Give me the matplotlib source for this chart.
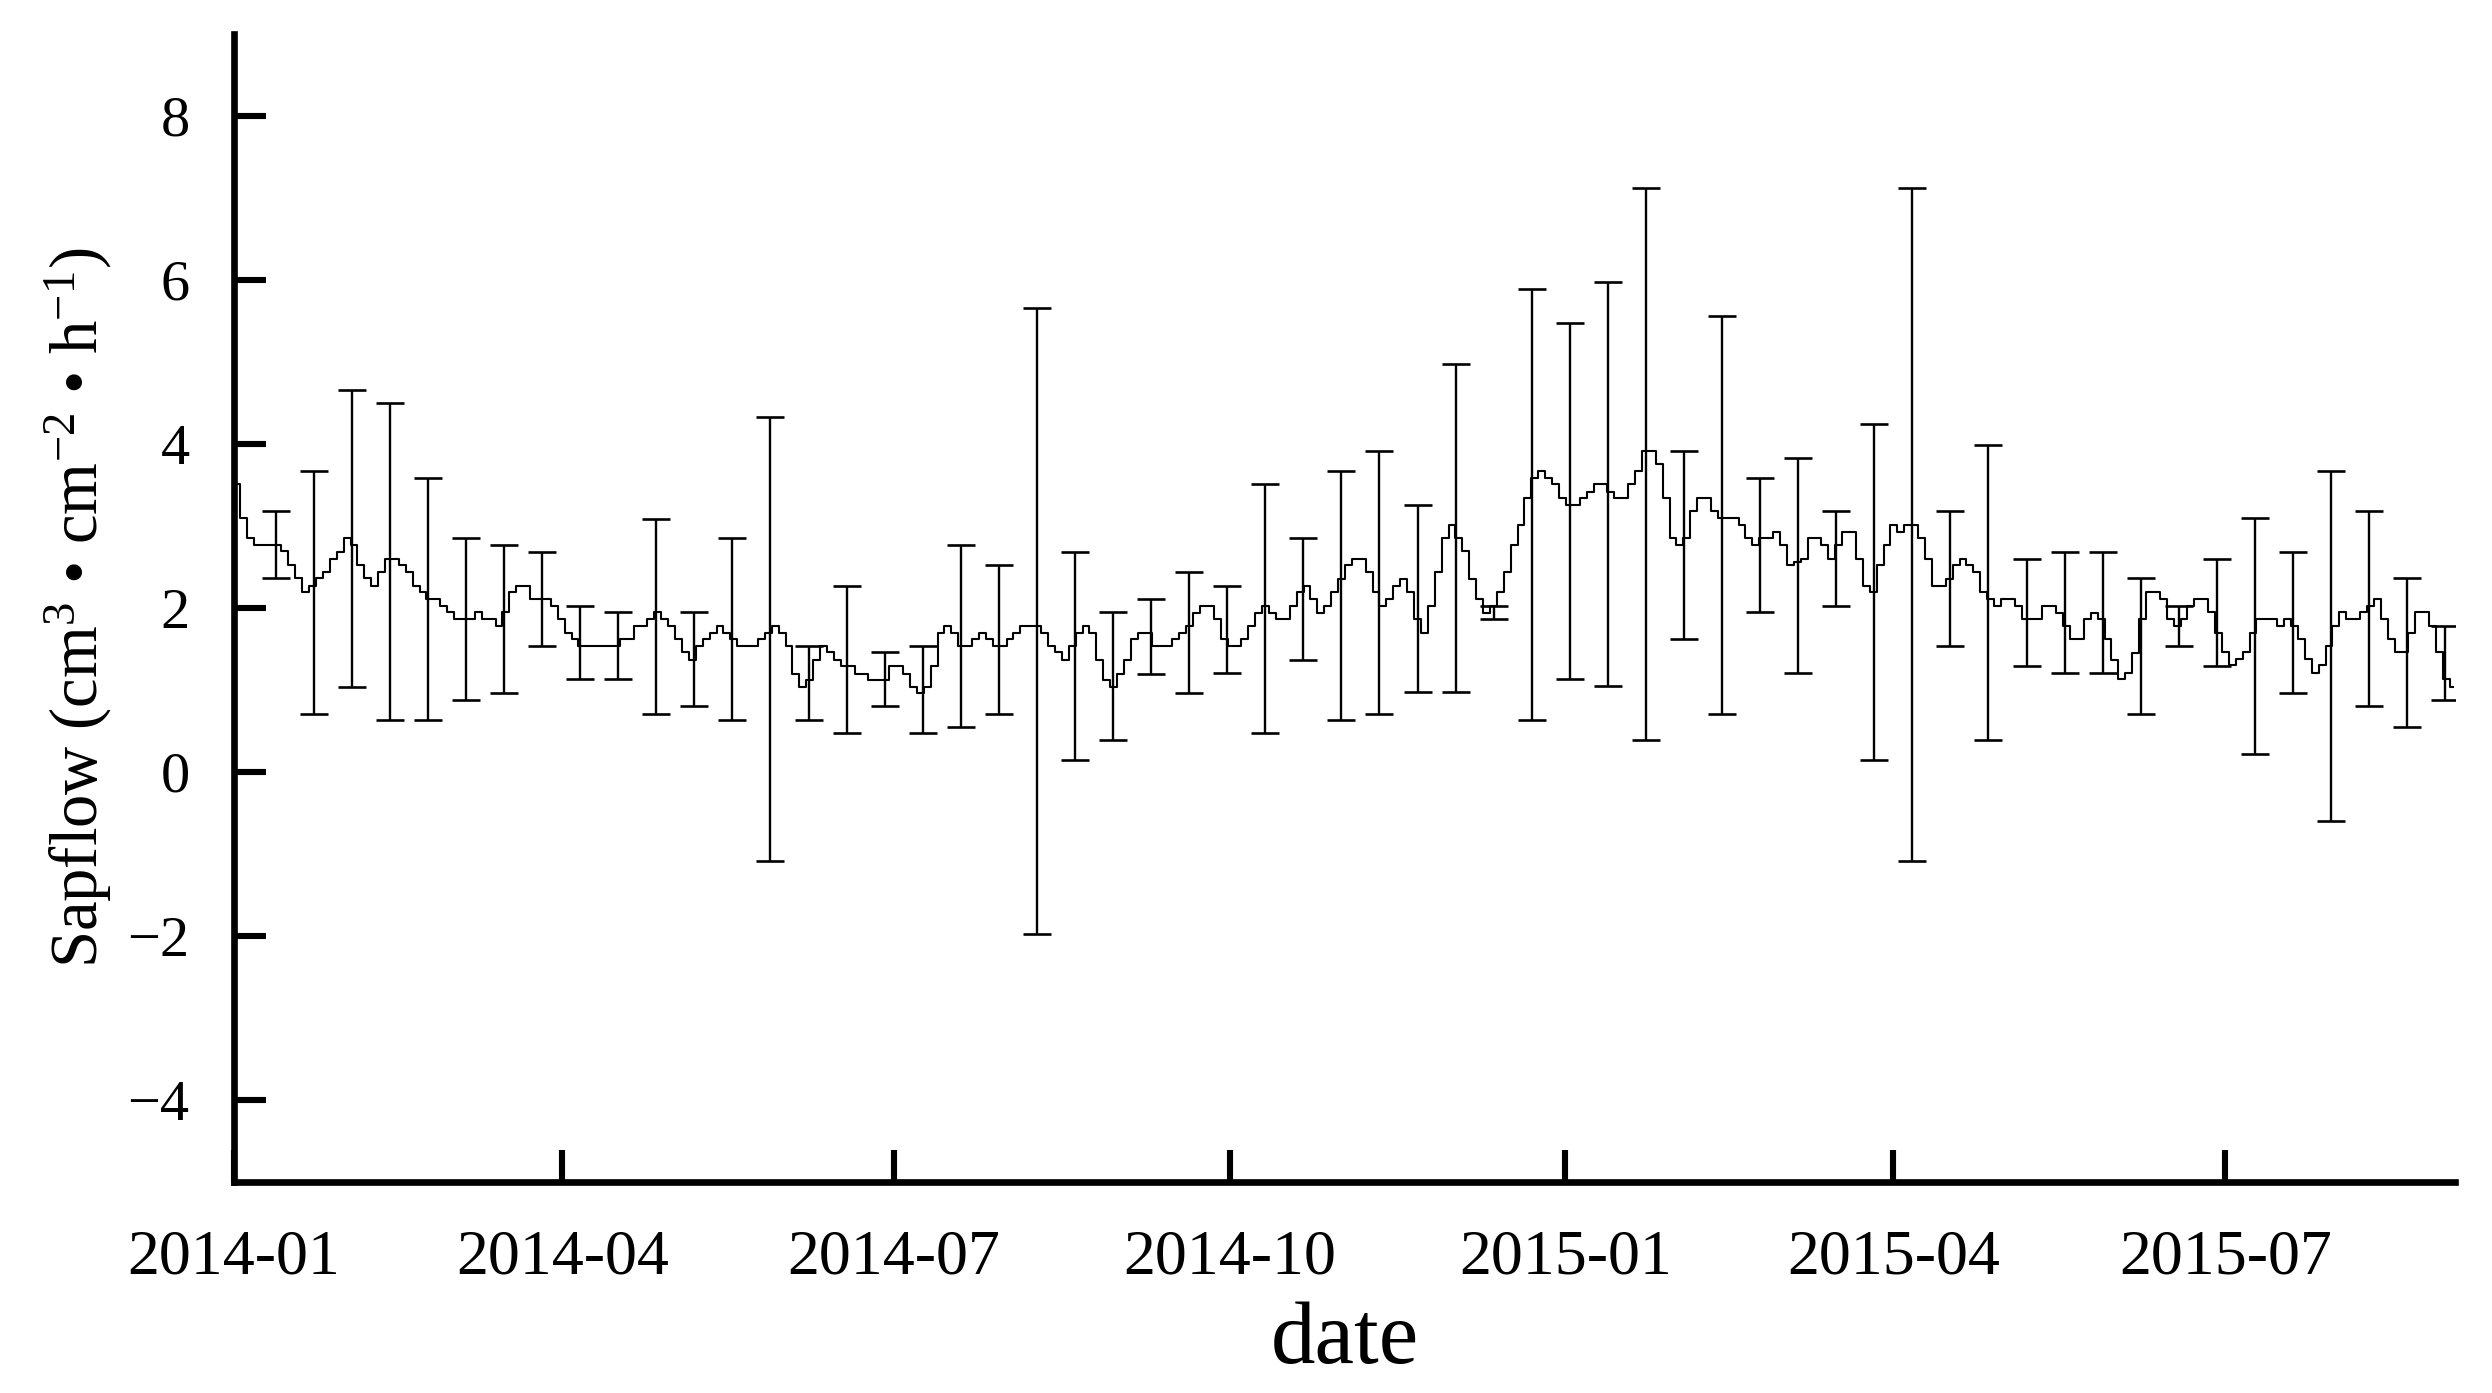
import matplotlib
matplotlib.use("Agg")
import matplotlib.pyplot as plt
import matplotlib.dates as mdates
import numpy as np
import pandas as pd

plt.rcParams['font.family'] = ['Liberation Serif', 'DejaVu Serif']
plt.rcParams['mathtext.fontset'] = 'custom'
plt.rcParams['mathtext.rm'] = 'Liberation Serif'
plt.rcParams['mathtext.it'] = 'Liberation Serif:italic'

# sap flow (smoothed), in time order
flow_jan_apr = [3.51, 3.10, 2.85, 2.77, 2.77, 2.77, 2.77, 2.69, 2.52, 2.36, 2.19, 2.27, 2.36, 2.44,
                2.60, 2.68, 2.85, 2.77, 2.52, 2.36, 2.27, 2.44, 2.60, 2.60, 2.52, 2.44, 2.27, 2.19,
                2.11, 2.11, 2.03, 1.95, 1.87, 1.87, 1.87, 1.95, 1.87, 1.87, 1.78, 1.95, 2.19, 2.27,
                2.27, 2.11, 2.11, 2.11, 2.03, 1.87, 1.70, 1.62, 1.54, 1.54, 1.54, 1.54, 1.54, 1.54,
                1.62, 1.62, 1.78, 1.78, 1.87, 1.95, 1.87, 1.78, 1.62, 1.46, 1.37]
flow_may_sep = [1.54, 1.62, 1.70, 1.78, 1.70, 1.62, 1.54, 1.54, 1.54, 1.62, 1.70, 1.78, 1.70, 1.54,
                1.20, 1.04, 1.12, 1.37, 1.54, 1.46, 1.37, 1.29, 1.29, 1.20, 1.20, 1.12, 1.12, 1.12,
                1.29, 1.29, 1.20, 1.04, 0.96, 1.04, 1.29, 1.70, 1.78, 1.70, 1.54, 1.54, 1.62, 1.70,
                1.62, 1.54, 1.54, 1.62, 1.70, 1.78, 1.78, 1.78, 1.70, 1.54, 1.46, 1.37, 1.54, 1.70,
                1.78, 1.70, 1.37, 1.12, 1.04, 1.20, 1.37, 1.62, 1.70, 1.70, 1.54, 1.54, 1.54, 1.62,
                1.70, 1.78]
flow_sep_feb = [1.94, 2.03, 2.03, 1.86, 1.62, 1.54, 1.54, 1.62, 1.78, 1.94, 2.03, 1.94, 1.86, 1.86,
                2.03, 2.19, 2.27, 2.11, 1.94, 2.03, 2.19, 2.35, 2.52, 2.60, 2.60, 2.44, 2.19, 2.03,
                2.11, 2.27, 2.35, 2.19, 1.86, 1.70, 2.03, 2.44, 2.85, 3.01, 2.85, 2.69, 2.35, 2.11,
                1.94, 2.03, 2.19, 2.44, 2.77, 3.01, 3.34, 3.59, 3.67, 3.59, 3.51, 3.34, 3.26, 3.26,
                3.34, 3.42, 3.51, 3.51, 3.42, 3.34, 3.34, 3.51, 3.67, 3.92, 3.92, 3.75, 3.34, 2.85,
                2.77, 2.85, 3.18]
flow_feb_jul = [3.34, 3.34, 3.18, 3.10, 3.10, 3.10, 3.01, 2.85, 2.77, 2.85, 2.85, 2.93, 2.77, 2.52,
                2.56, 2.60, 2.85, 2.85, 2.77, 2.60, 2.77, 2.93, 2.93, 2.60, 2.27, 2.19, 2.52, 2.77,
                3.01, 2.93, 3.01, 3.01, 2.85, 2.60, 2.27, 2.27, 2.35, 2.52, 2.60, 2.52, 2.44, 2.19,
                2.11, 2.03, 2.11, 2.11, 2.03, 1.86, 1.86, 1.86, 2.03, 2.03, 1.94, 1.78, 1.62, 1.62,
                1.86, 1.94, 1.86, 1.62, 1.37, 1.13, 1.21, 1.45, 1.86, 2.19, 2.19, 2.11, 1.86, 1.78,
                1.86, 2.03]
flow_jul_sep = [2.11, 2.11, 1.95, 1.70, 1.46, 1.30, 1.38, 1.46, 1.70, 1.87, 1.87, 1.87, 1.78, 1.87,
                1.78, 1.62, 1.38, 1.21, 1.30, 1.54, 1.78, 1.95, 1.87, 1.87, 1.95, 2.03, 2.11, 1.87,
                1.62, 1.46, 1.46, 1.70, 1.95, 1.95, 1.78, 1.46, 1.13, 1.04]

# error bar ends (upper / lower), one bar roughly every 10 days
err_upper = [3.18, 3.67, 4.66, 4.50, 3.59, 2.85, 2.77, 2.68, 2.03, 1.95, 3.09, 1.95,
             2.85, 4.33, 1.54, 2.27, 1.46, 1.54, 2.77, 2.52, 5.66, 2.68, 1.95, 2.11, 2.44,
             2.27, 3.51, 2.85, 3.67, 3.92, 3.26, 4.98, 2.03, 5.89, 5.48, 5.97, 7.12, 3.92,
             5.56, 3.59, 3.83, 3.18, 4.24, 7.12, 3.18, 3.99, 2.60, 2.68, 2.68, 2.36, 2.02,
             2.60, 3.10, 2.68, 3.67, 3.18, 2.36, 1.78]
err_lower = [2.36, 0.71, 1.04, 0.63, 0.63, 0.88, 0.96, 1.54, 1.13, 1.13, 0.71, 0.80,
             0.63, -1.08, 0.63, 0.47, 0.80, 0.47, 0.55, 0.71, -1.97, 0.14, 0.39, 1.20, 0.96,
             1.21, 0.47, 1.37, 0.63, 0.71, 0.97, 0.97, 1.86, 0.63, 1.13, 1.05, 0.39, 1.62,
             0.71, 1.95, 1.21, 2.03, 0.14, -1.08, 1.54, 0.39, 1.29, 1.21, 1.21, 0.71, 1.54,
             1.29, 0.22, 0.96, -0.60, 0.80, 0.55, 0.88]

sapflow = np.array(flow_jan_apr + flow_may_sep + flow_sep_feb + flow_feb_jul + flow_jul_sep)
dates = pd.date_range('2014-01-01 17:00', '2015-09-01 12:00', periods=len(sapflow))

err_upper = np.array(err_upper)
err_lower = np.array(err_lower)
err_dates = pd.date_range('2014-01-12 10:00', '2015-08-30 07:00', periods=len(err_upper))
err_mid = (err_upper + err_lower) / 2
err_half = (err_upper - err_lower) / 2

fig = plt.figure(figsize=(12.46, 6.965), dpi=200)
ax = fig.add_axes([0.0939, 0.1515, 0.8913, 0.8241])

ax.plot(dates, sapflow, color='black', lw=0.75, drawstyle='steps-mid')
ax.errorbar(err_dates, err_mid, yerr=err_half, fmt='none', ecolor='black',
            elinewidth=0.85, capsize=5, capthick=0.95)

ax.set_xlim(pd.Timestamp('2014-01-01'), pd.Timestamp('2015-09-02'))
ax.set_ylim(-5, 9)
ax.set_yticks([-4, -2, 0, 2, 4, 6, 8])
ax.xaxis.set_major_locator(mdates.MonthLocator(bymonth=[1, 4, 7, 10]))
ax.xaxis.set_major_formatter(mdates.DateFormatter('%Y-%m'))

for s in ['top', 'right']:
    ax.spines[s].set_visible(False)
for s in ['left', 'bottom']:
    ax.spines[s].set_linewidth(2.4)

ax.tick_params(axis='both', direction='in', length=11.5, width=2.2)
ax.tick_params(axis='x', labelsize=23, pad=17)
ax.tick_params(axis='y', labelsize=21, pad=16)

ax.set_xlabel('date', fontsize=32, labelpad=5)
ax.set_ylabel(r'Sapflow (cm$^{3}$ • cm$^{-2}$ • h$^{-1}$)', fontsize=24, labelpad=5)

fig.savefig('out.png', dpi=200)
